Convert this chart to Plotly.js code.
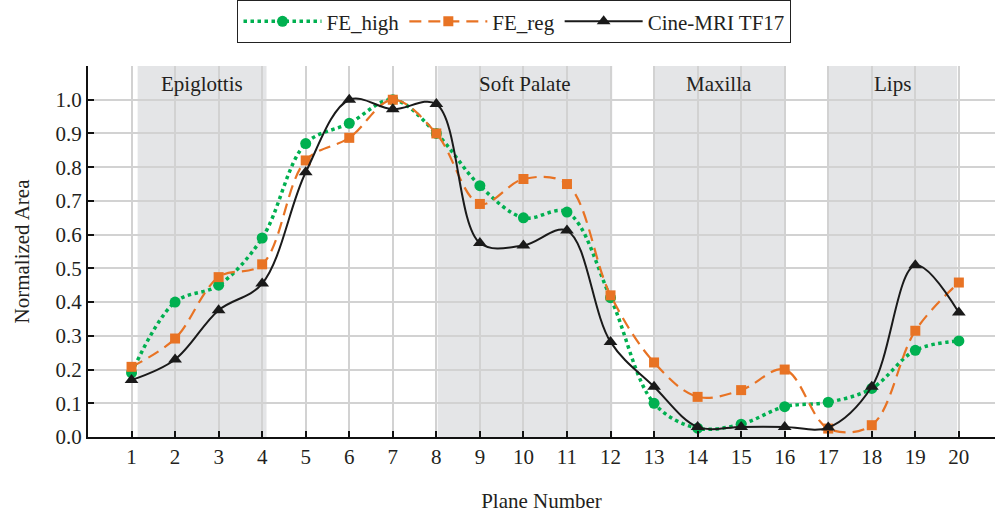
<!DOCTYPE html>
<html>
<head>
<meta charset="utf-8">
<script src="https://cdn.plot.ly/plotly-3.0.1.min.js"></script>
<style>html,body{margin:0;padding:0;background:#fff}#chart{width:995px;height:513px}</style>
</head>
<body>
<div id="chart"></div>
<script>
var planes = [1,2,3,4,5,6,7,8,9,10,11,12,13,14,15,16,17,18,19,20];
var feHigh = [0.19,0.40,0.45,0.59,0.87,0.93,1.00,0.90,0.745,0.65,0.667,0.413,0.10,0.026,0.038,0.09,0.103,0.144,0.257,0.285];
var feReg  = [0.208,0.292,0.474,0.512,0.82,0.887,1.00,0.90,0.691,0.765,0.75,0.42,0.221,0.119,0.139,0.20,0.025,0.035,0.315,0.458];
var cine   = [0.169,0.23,0.376,0.455,0.785,1.00,0.972,0.987,0.575,0.568,0.612,0.282,0.149,0.03,0.03,0.03,0.028,0.149,0.509,0.369];
var seriesNames = ['FE_high','FE_reg','Cine-MRI TF17'];
var regionNames = ['Epiglottis','Soft Palate','Maxilla','Lips'];
var regionStart = [1.14, 8.03, 13.0, 16.99];
var regionEnd   = [4.1, 12.04, 16.0, 19.96];
var yTicks = [0,0.1,0.2,0.3,0.4,0.5,0.6,0.7,0.8,0.9,1.0,1.1];
var yTickText = ['0.0','0.1','0.2','0.3','0.4','0.5','0.6','0.7','0.8','0.9','1.0',''];

var serif = 'Liberation Serif, Times New Roman, serif';
var txt = '#231f20';

var traces = [
  {x: planes, y: feHigh, name: seriesNames[0], type: 'scatter', mode: 'lines+markers',
   line: {color: '#00b050', width: 3.5, dash: 'dot', shape: 'spline', smoothing: 1},
   marker: {symbol: 'circle', size: 11, color: '#00b050'}, cliponaxis: true},
  {x: planes, y: feReg, name: seriesNames[1], type: 'scatter', mode: 'lines+markers',
   line: {color: '#e87324', width: 2.2, dash: '12px,7px', shape: 'spline', smoothing: 1},
   marker: {symbol: 'square', size: 10, color: '#e87324'}, cliponaxis: true},
  {x: planes, y: cine, name: seriesNames[2], type: 'scatter', mode: 'lines+markers',
   line: {color: '#1a1a1a', width: 2, shape: 'spline', smoothing: 1},
   marker: {symbol: 'triangle-up', size: 12, color: '#1a1a1a'}, cliponaxis: true}
];

var shapes = [];
var annotations = [];
for (var i = 0; i < regionNames.length; i++) {
  shapes.push({type: 'rect', xref: 'x', yref: 'y', x0: regionStart[i], x1: regionEnd[i], y0: -0.01, y1: 1.105,
    fillcolor: '#e4e5e7', line: {width: 0}, layer: 'below'});
  annotations.push({x: (regionStart[i] + regionEnd[i]) / 2, y: 1.047, xref: 'x', yref: 'y', text: regionNames[i],
    showarrow: false, font: {family: serif, size: 21, color: txt}});
}

var layout = {
  width: 995, height: 513,
  margin: {l: 88, r: 0, t: 65, b: 76},
  paper_bgcolor: '#fff', plot_bgcolor: '#fff',
  font: {family: serif, color: txt},
  showlegend: true,
  legend: {orientation: 'h', x: 0.47, xanchor: 'center', y: 1.062, yanchor: 'bottom', yref: 'paper',
    bordercolor: '#222', borderwidth: 1.2, bgcolor: '#fff', font: {family: serif, size: 21, color: txt},
    itemwidth: 78, tracegroupgap: 0},
  xaxis: {range: [0, 20.83], tickvals: planes, ticktext: planes.map(String),
    showgrid: true, gridcolor: '#d2d2d2', gridwidth: 2,
    showline: true, linecolor: '#111', linewidth: 2.2,
    ticks: 'inside', ticklen: 6, tickcolor: '#111', tickwidth: 1.5,
    tickfont: {family: serif, size: 21, color: txt}, zeroline: false,
    title: {text: 'Plane Number', font: {family: serif, size: 21, color: txt}, standoff: 26}},
  yaxis: {range: [0, 1.1], tickvals: yTicks, ticktext: yTickText,
    showgrid: true, gridcolor: '#d2d2d2', gridwidth: 2,
    showline: true, linecolor: '#111', linewidth: 2.2,
    ticks: 'inside', ticklen: 6, tickcolor: '#111', tickwidth: 1.5,
    tickfont: {family: serif, size: 21, color: txt}, zeroline: false,
    title: {text: 'Normalized Area', font: {family: serif, size: 21, color: txt}, standoff: 20}},
  shapes: shapes,
  annotations: annotations
};

Plotly.newPlot('chart', traces, layout, {displayModeBar: false, responsive: false});
</script>
</body>
</html>
